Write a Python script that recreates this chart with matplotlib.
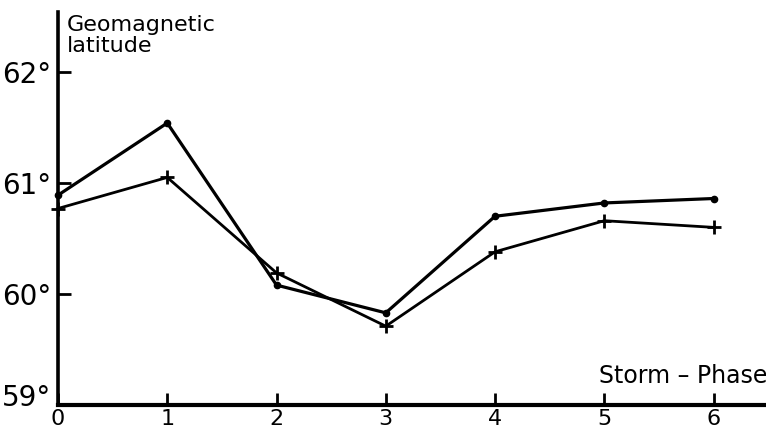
import matplotlib
matplotlib.use("Agg")
import matplotlib.pyplot as plt
import matplotlib.transforms as mtransforms

phase = [0, 1, 2, 3, 4, 5, 6]
lat_dots = [60.89, 61.54, 60.08, 59.83, 60.70, 60.82, 60.86]
lat_plus = [60.77, 61.05, 60.19, 59.71, 60.38, 60.66, 60.60]
yticks = [59, 60, 61, 62]
ytick_labels = ["59°", "60°", "61°", "62°"]
xticks = [0, 1, 2, 3, 4, 5, 6]
xtick_labels = ["0", "1", "2", "3", "4", "5", "6"]

plt.rcParams['font.family'] = ['DejaVu Sans']
fig = plt.figure(figsize=(7.66, 4.34), dpi=100)
ax = fig.add_axes([58/766, 1 - 405/434, 1 - 58/766, (405 - 12)/434])

ax.plot(phase, lat_dots, color='black', lw=2.3, marker='o', ms=4.5, clip_on=False)
ax.plot(phase, lat_plus, color='black', lw=2.0, marker='+', ms=10, mew=2, clip_on=False)

ax.set_xlim(0, 6.48)
ax.set_ylim(59, 62.54)
ax.spines['top'].set_visible(False)
ax.spines['right'].set_visible(False)
ax.spines['left'].set_linewidth(2.6)
ax.spines['bottom'].set_linewidth(3.0)

ax.set_xticks(xticks)
ax.set_xticklabels(xtick_labels, fontsize=16)
ax.set_yticks(yticks)
ax.set_yticklabels(ytick_labels, fontsize=20)
ax.tick_params(axis='x', direction='in', length=9, width=2, pad=3)
ax.tick_params(axis='y', direction='in', length=9, width=2, pad=5)

lbl = ax.get_yticklabels()[0]
lbl.set_transform(lbl.get_transform() + mtransforms.ScaledTranslation(0, 7/72, fig.dpi_scale_trans))

fig.text(67/766, 1 - 15/434, "Geomagnetic\nlatitude", fontsize=16, ha='left', va='top', linespacing=1.05)
fig.text(599/766, 1 - 388/434, "Storm – Phase", fontsize=17, ha='left', va='bottom')

fig.savefig("out.png", dpi=100)
